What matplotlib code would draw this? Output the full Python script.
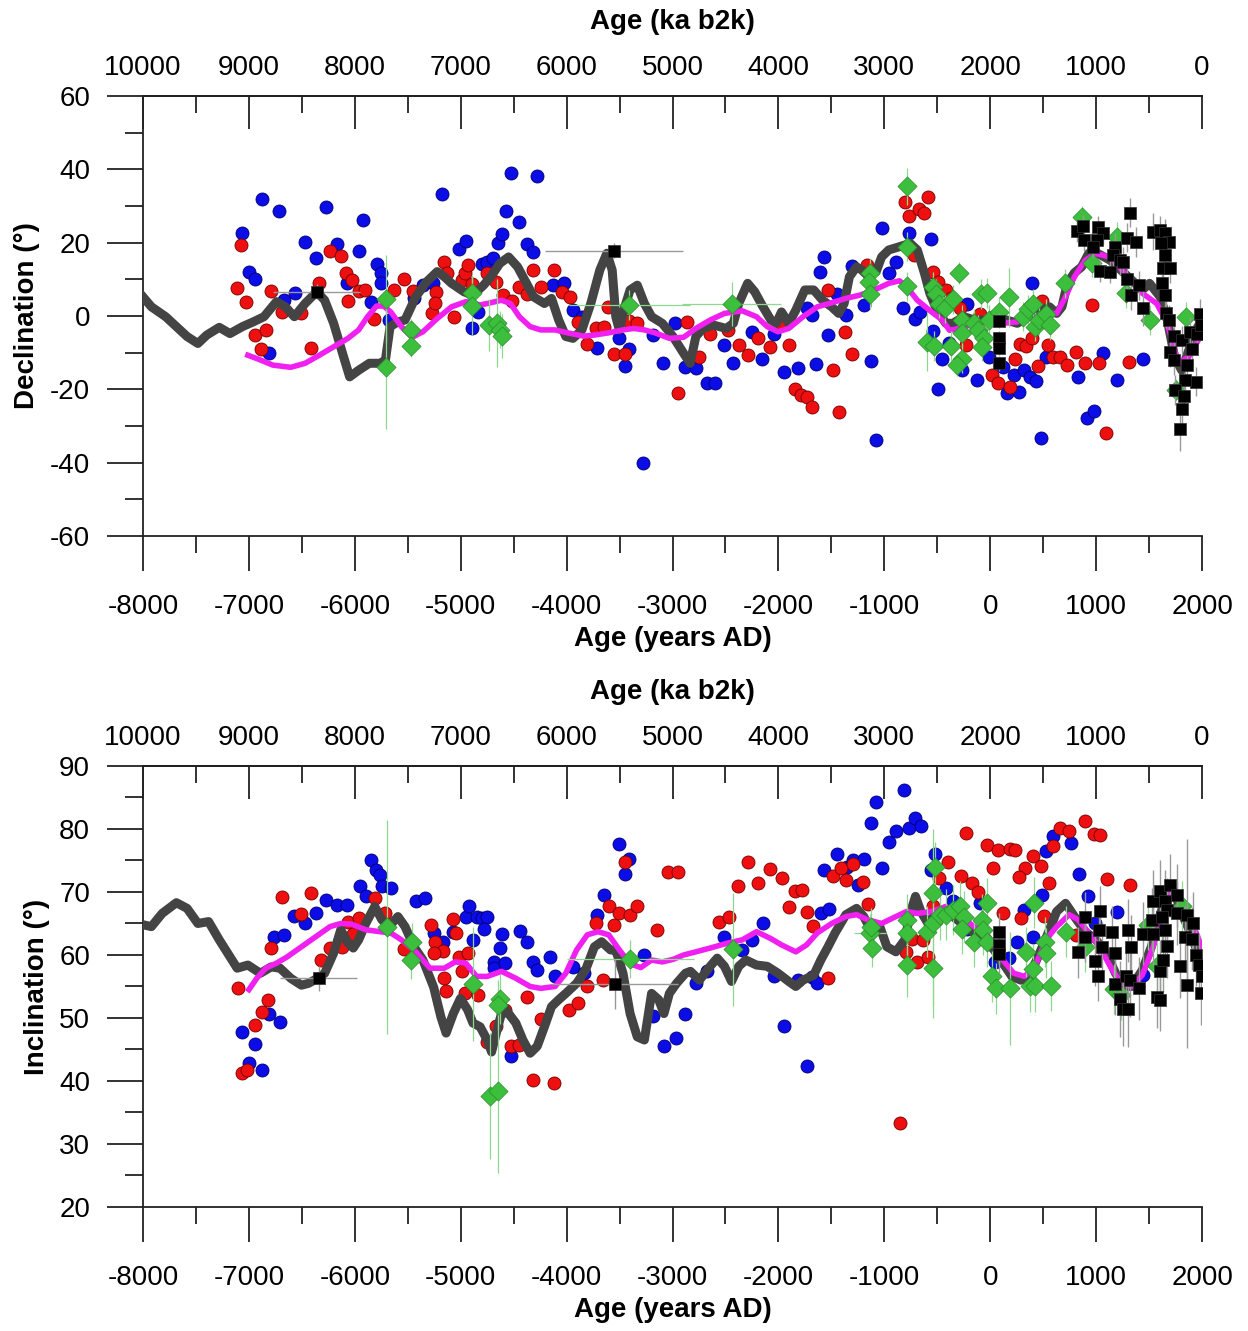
import numpy as np
import matplotlib
matplotlib.use('Agg')
import matplotlib.pyplot as plt
from matplotlib.ticker import MultipleLocator

plt.rcParams['font.family'] = ['Liberation Sans', 'DejaVu Sans']
plt.rcParams['axes.unicode_minus'] = False

# ---------------- declination panel ----------------
# (age AD, declination)
dec_blue = [(-7067, 22.5), (-6878, 31.8), (-6713, 28.7), (-7003, 12.1), (-6942, 10.2), (-6814, -10.2),
            (-6673, 4.3), (-6565, 6.2), (-6474, 20.2), (-6271, 29.8), (-6369, 15.9), (-6173, 19.6),
            (-5961, 17.8), (-5921, 26.1), (-6076, 8.9), (-5789, 14.1), (-5749, 11.6), (-5752, 8.9),
            (-5846, 3.9), (-5674, -1.1), (-5441, 4.8), (-5357, 8.4), (-5259, 8.9), (-5178, 33.2),
            (-5020, 18.4), (-4952, 20.5), (-4892, -3.4), (-4834, 1.1), (-4801, 14.3), (-4750, 14.8),
            (-4699, 15.7), (-4649, 19.8), (-4608, 22.3), (-4575, 28.7), (-4524, 39.1), (-4446, 25.5),
            (-4379, 19.6), (-4318, 17.5), (-4281, 38.2), (-4126, 8.4), (-4025, 8.9), (-3940, 1.6),
            (-3856, -0.2), (-3715, -8.6), (-3509, -6.1), (-3407, -9.1), (-3451, -13.7), (-3276, -40.2),
            (-3182, -5.2), (-3087, -12.8), (-2979, -2.0), (-2878, -13.9),
            (-2780, -14.3), (-2679, -18.2), (-2595, -18.4), (-2510, -7.9), (-2426, -12.9), (-2250, -4.3),
            (-2156, -11.8), (-2038, -4.8), (-1947, -15.2), (-1819, -14.3), (-1734, 2.1), (-1684, 0.2),
            (-1650, -13.1), (-1573, 16.1), (-1606, 12.1), (-1532, -5.2), (-1448, 5.9), (-1363, 0.2),
            (-1303, 13.6), (-1195, 3.0), (-1127, -12.2), (-1083, -33.8), (-1026, 23.9), (-959, 11.8),
            (-891, 14.8), (-824, 2.1), (-770, 22.7), (-712, -0.9), (-662, 1.1), (-561, 21.1),
            (-537, -4.1), (-493, -19.8), (-453, -11.6), (-385, -7.5), (-267, -14.8), (-217, 3.4),
            (-122, -17.5), (-8, -11.1), (120, -13.8), (154, -21.1), (221, -16.1), (272, -20.7),
            (316, -14.6), (373, -16.6), (434, -17.7), (397, 8.9), (475, -33.4), (525, -11.1),
            (829, -16.6), (913, -27.9), (981, -25.8), (1065, -10.2), (1193, -17.5), (1443, -11.6)]

dec_red = [(-7071, 19.3), (-7111, 7.5), (-7023, 3.9), (-6942, -5.2), (-6835, -3.7), (-6885, -9.1),
           (-6791, 6.8), (-6690, 1.1), (-6504, 0.9), (-6413, -8.7), (-6335, 8.9), (-6237, 17.8),
           (-6126, 16.4), (-6082, 11.6), (-6025, 9.8), (-6065, 4.2), (-5964, 6.8), (-5903, 7.1),
           (-5819, -0.9), (-5634, 7.2), (-5539, 10.2), (-5448, 6.9), (-5273, 0.9), (-5229, 6.6),
           (-5239, 3.6), (-5155, 14.8), (-5131, 11.8), (-5064, -0.4), (-4986, 9.8), (-4959, 11.8),
           (-4935, 13.9), (-4892, 8.7), (-4750, 11.8), (-4666, 9.3), (-4598, 5.7), (-4514, 4.2),
           (-4446, 8.0), (-4379, 6.0), (-4318, 12.5), (-4116, 12.5), (-4244, 8.0), (-4042, 6.6),
           (-3964, 5.2), (-3890, -1.6), (-3812, -7.7), (-3721, -3.4), (-3644, -3.1), (-3610, 2.5),
           (-3553, -10.4), (-3451, -10.4), (-3407, -1.3), (-3333, -2.0), (-2945, -20.9), (-2861, -1.6),
           (-2746, -11.1), (-2645, -4.8), (-2477, -3.7), (-2375, -7.9), (-2291, -10.7), (-2190, -6.1),
           (-2079, -8.4), (-1971, -2.5), (-1896, -7.9), (-1842, -19.8), (-1785, -21.6), (-1728, -22.2),
           (-1684, -24.8), (-1532, 7.1), (-1482, -14.6), (-1431, -26.1), (-1370, -4.3), (-1303, -10.4),
           (-1161, 13.9), (-807, 31.1), (-763, 27.2), (-672, 29.3), (-628, 28.1), (-588, 32.5),
           (-716, 16.6), (-537, 12.1), (-493, 9.3), (-419, 7.1), (-368, 4.8), (-284, 2.1),
           (-233, -7.9), (-99, 0.5), (12, -16.1), (69, -18.4), (187, -19.5), (238, -11.8),
           (282, -7.7), (340, -8.2), (390, -6.1), (451, -13.7), (492, 4.2), (542, -7.9),
           (593, -11.1), (660, -11.1), (728, -13.4), (812, -9.8), (890, -12.9), (964, 3.0),
           (1025, -12.9), (1092, -31.8), (1308, -12.5)]

# (age AD, declination, dec error, age error)
dec_green = [(-5701, 4.5, 12, 0), (-5701, -13.8, 17, 0), (-5468, -3.7, 3, 0), (-5468, -8.2, 3, 0),
             (-4892, 6.2, 5, 0), (-4892, 2.7, 8, 0), (-4733, -2.5, 7, 0), (-4655, -2.0, 12, 0),
             (-4632, -3.7, 5, 0), (-4615, -5.5, 6, 0), (-3407, 3.0, 4, 570), (-2443, 3.4, 6, 470),
             (-1134, 11.8, 4, 0), (-1144, 9.3, 4, 0), (-1134, 6.0, 4, 0), (-790, 35.4, 5, 0),
             (-790, 18.9, 4, 0), (-790, 8.1, 4, 0), (-544, 8.0, 4, 0), (-513, 6.0, 4, 0),
             (-486, 3.4, 4, 0), (-426, 2.1, 4, 0), (-594, -7.0, 8, 0), (-527, -8.2, 4, 0),
             (-352, 4.5, 4, 0), (-368, -8.2, 4, 0), (-291, 11.8, 3, 0), (-267, -1.1, 4, 0),
             (-267, -4.6, 4, 0), (-267, -11.6, 4, 0), (-318, -13.4, 3, 0), (-156, -2.0, 4, 0),
             (-89, 6.0, 4, 0), (-31, 6.3, 4, 0), (-116, -3.8, 4, 0), (-55, -6.1, 4, 0),
             (-75, -8.4, 4, 0), (-15, -1.1, 4, 0), (80, 1.1, 4, 0), (181, 5.1, 8, 0),
             (306, -0.2, 4, 0), (357, 1.8, 4, 0), (407, 3.4, 4, 0), (424, -2.9, 4, 0),
             (458, -1.1, 4, 0), (525, 0.5, 4, 0), (566, -2.5, 4, 0), (701, 8.9, 4, 0),
             (863, 27.1, 3, 0), (964, 14.5, 4, 0), (1193, 21.6, 4, 0), (1285, 6.3, 4, 0),
             (1510, -1.1, 4, 0), (1848, -0.2, 4, 0), (1757, -20.2, 3, 0)]

# (age AD, declination, dec error, age error)
dec_black = [(-6359, 6.6, 2, 410), (-3553, 17.8, 2, 650), (87, -1.3, 2, 0), (87, -6.1, 2, 0),
             (87, -8.6, 2, 0), (87, -12.9, 2, 0), (1320, 28.2, 4, 0), (817, 23.1, 3, 0),
             (880, 24.5, 3, 0), (889, 20.7, 3, 0), (1021, 24.3, 3, 0), (1069, 22.7, 3, 0),
             (1006, 20.7, 3, 0), (974, 18.7, 3, 0), (1037, 12.3, 3, 0), (1132, 12.0, 3, 0),
             (1179, 18.7, 4, 0), (1163, 16.6, 3, 0), (1226, 15.2, 4, 0), (1251, 14.8, 4, 0),
             (1289, 21.4, 4, 0), (1377, 20.2, 4, 0), (1289, 10.2, 4, 0), (1330, 5.7, 4, 0),
             (1409, 8.4, 4, 0), (1446, 2.3, 5, 0), (1541, 23.0, 5, 0), (1604, 23.4, 4, 0),
             (1651, 22.5, 4, 0), (1692, 20.2, 4, 0), (1610, 19.8, 4, 0), (1651, 16.6, 4, 0),
             (1629, 13.0, 4, 0), (1698, 13.0, 4, 0), (1620, 8.9, 4, 0), (1651, 5.7, 4, 0),
             (1661, 0.7, 4, 0), (1692, -1.0, 4, 0), (1736, -5.5, 4, 0), (1698, -9.8, 4, 0),
             (1736, -12.0, 4, 0), (1809, -6.6, 4, 0), (1887, -4.3, 4, 0), (1950, -4.8, 4, 0),
             (1982, 0.5, 4, 0), (1988, -2.5, 4, 0), (1903, -9.1, 4, 0), (1856, -13.4, 4, 0),
             (1944, -17.9, 4, 0), (1840, -17.5, 4, 0), (1745, -20.2, 4, 0), (1834, -21.9, 4, 0),
             (1809, -25.5, 4, 0), (1793, -30.7, 6, 0)]

dec_model = [(-8000, 5.2), (-7921, 2.5), (-7786, -0.2), (-7685, -2.9), (-7584, -5.6), (-7482, -7.5),
             (-7398, -5.2), (-7280, -3.1), (-7179, -4.8), (-7061, -2.9), (-6959, -1.6), (-6858, -0.2),
             (-6740, 3.9), (-6656, 2.5), (-6571, -0.2), (-6470, 3.4), (-6359, 6.6), (-6285, 4.3),
             (-6200, -2.0), (-6116, -10.2), (-6049, -16.6), (-5964, -14.8), (-5863, -12.9),
             (-5762, -12.9), (-5711, -12.0), (-5667, -2.9), (-5593, -1.6), (-5526, -1.1), (-5425, 5.2),
             (-5323, 9.3), (-5222, 12.1), (-5155, 10.7), (-5087, 8.9), (-4969, 6.6), (-4885, 5.7),
             (-4784, 8.4), (-4716, 10.7), (-4632, 14.3), (-4548, 16.1), (-4463, 13.4), (-4379, 8.9),
             (-4311, 5.2), (-4210, 3.4), (-4143, 4.8), (-4075, -1.1), (-4008, -5.6), (-3940, -6.1),
             (-3856, -3.8), (-3772, 3.4), (-3687, 12.5), (-3620, 17.1), (-3570, 12.5), (-3536, -0.2),
             (-3502, -3.8), (-3451, 2.5), (-3401, 7.1), (-3333, 8.4), (-3266, 3.4), (-3198, -0.2),
             (-3097, -2.0), (-2996, -5.6), (-2895, -10.2), (-2834, -12.9), (-2780, -5.6),
             (-2713, -3.4), (-2611, -2.5), (-2493, -3.4), (-2426, -2.0), (-2375, 3.4), (-2291, 8.9),
             (-2224, 6.6), (-2156, 3.0), (-2072, -1.1), (-2021, -2.0), (-1971, 1.1), (-1903, -2.0),
             (-1836, 1.6), (-1751, 7.1), (-1667, 7.1), (-1583, 4.3), (-1498, 2.5), (-1431, 0.7),
             (-1380, 3.4), (-1330, 10.7), (-1262, 13.4), (-1212, 12.5), (-1161, 11.1), (-1077, 12.1),
             (-1026, 16.1), (-959, 18.0), (-857, 18.9), (-756, 19.8), (-689, 18.0), (-621, 11.6),
             (-571, 6.2), (-503, 1.6), (-419, -2.0), (-352, -2.0), (-250, -0.2), (-149, -1.1),
             (-48, -1.1), (53, -0.2), (154, -1.1), (255, -2.0), (357, -0.2), (458, 1.2), (559, 2.5),
             (627, 0.7), (677, 2.5), (728, 8.9), (795, 11.8), (863, 13.4), (930, 17.1), (998, 17.3),
             (1133, 15.2), (1301, 10.7), (1436, 7.1), (1504, 8.9), (1605, 5.2), (1672, -1.1),
             (1740, -11.1), (1807, -14.8), (1875, -9.3), (1942, -3.8), (2000, -1.1)]

dec_smooth = [(-7010, -10.7), (-6909, -11.8), (-6774, -13.4), (-6605, -14.0), (-6470, -12.9),
              (-6335, -10.7), (-6200, -8.4), (-6065, -6.1), (-5964, -3.8), (-5880, -0.2), (-5796, 2.7),
              (-5728, 2.7), (-5661, 1.1), (-5560, -2.9), (-5458, -5.8), (-5357, -4.3), (-5222, -0.7),
              (-5087, 2.5), (-4952, 3.9), (-4817, 3.0), (-4750, 3.4), (-4615, 4.3), (-4531, 3.4),
              (-4446, -0.2), (-4345, -2.9), (-4244, -3.8), (-4109, -3.8), (-3974, -4.7), (-3839, -5.5),
              (-3738, -5.2), (-3603, -4.6), (-3468, -3.8), (-3367, -3.4), (-3266, -3.8), (-3165, -4.6),
              (-3030, -6.1), (-2895, -5.8), (-2780, -3.4), (-2645, -1.1), (-2510, 0.7), (-2342, 1.4),
              (-2207, -0.2), (-2106, -2.9), (-2004, -4.3), (-1903, -3.4), (-1768, -0.2), (-1633, 2.5),
              (-1498, 3.6), (-1363, 4.8), (-1229, 5.7), (-1094, 7.1), (-959, 8.9), (-857, 9.6),
              (-790, 8.0), (-689, 4.3), (-554, 1.1), (-453, -1.1), (-385, -3.9), (-284, -3.4),
              (-149, -2.0), (-15, -1.6), (120, -2.0), (255, -1.6), (390, -0.2), (525, 0.7), (627, 0.7),
              (711, 5.2), (795, 10.7), (897, 15.2), (998, 17.0), (1133, 16.1), (1301, 10.7),
              (1436, 6.2), (1571, 3.4), (1672, -2.0), (1774, -12.9), (1875, -11.1), (2000, -4.8)]

# ---------------- inclination panel ----------------
inc_blue = [(-7067, 47.7), (-7000, 42.8), (-6942, 45.9), (-6875, 41.7), (-6808, 50.7), (-6706, 49.4),
            (-6767, 62.9), (-6666, 63.2), (-6571, 66.2), (-6470, 65.0), (-6369, 66.6), (-6268, 68.7),
            (-6173, 67.9), (-6072, 67.9), (-5947, 70.9), (-5897, 69.3), (-5846, 75.1), (-5802, 73.5),
            (-5762, 72.7), (-5745, 70.9), (-5661, 70.7), (-5425, 68.5), (-5340, 69.0), (-5249, 63.5),
            (-5171, 62.1), (-5070, 63.7), (-4952, 66.1), (-4919, 67.7), (-4851, 66.1), (-4801, 65.8),
            (-4750, 66.1), (-4784, 64.2), (-4885, 62.4), (-4615, 63.3), (-4632, 61.1), (-4683, 58.9),
            (-4683, 57.9), (-4581, 58.7), (-4440, 63.8), (-4379, 62.1), (-4318, 58.9), (-4278, 57.6),
            (-4160, 59.7), (-4109, 56.6), (-3940, 58.1), (-3839, 57.1), (-3711, 66.3), (-3644, 69.5),
            (-3502, 77.6), (-3407, 75.3), (-3451, 72.9), (-3272, 60.0), (-3182, 50.3), (-3081, 45.6),
            (-2969, 46.8), (-2878, 50.7), (-4521, 44.0),
            (-2780, 55.6), (-2679, 57.5), (-2510, 62.9), (-2342, 60.8), (-2247, 62.3), (-2146, 65.0),
            (-2045, 56.7), (-1944, 48.7), (-1819, 56.0), (-1728, 42.3), (-1684, 56.5), (-1640, 55.6),
            (-1600, 66.6), (-1525, 67.3), (-1566, 73.5), (-1448, 76.1), (-1357, 73.9), (-1296, 75.1),
            (-1188, 75.3), (-1245, 71.1), (-1127, 81.0), (-1077, 84.3), (-1020, 73.8), (-959, 78.0),
            (-891, 79.7), (-817, 86.2), (-763, 80.1), (-706, 81.7), (-655, 80.5), (-520, 76.1),
            (-561, 73.5), (-419, 70.6), (-352, 68.5), (-217, 64.2), (-99, 68.2), (46, 58.9),
            (181, 59.5), (248, 62.0), (323, 67.1), (407, 62.9), (485, 69.5), (525, 76.5), (593, 78.9),
            (762, 77.7), (836, 72.9), (923, 69.4), (991, 65.0), (1200, 66.9), (1443, 56.8)]

inc_red = [(-7104, 54.8), (-7067, 41.2), (-7017, 41.7), (-6942, 48.9), (-6875, 50.9), (-6824, 52.8),
           (-6791, 61.1), (-6683, 69.2), (-6504, 66.5), (-6410, 69.8), (-6318, 59.2), (-6234, 61.1),
           (-6123, 61.2), (-6065, 65.3), (-6015, 63.3), (-5964, 65.8), (-5812, 69.0), (-5718, 66.6),
           (-5533, 60.9), (-5280, 64.8), (-5239, 62.0), (-5171, 60.7), (-5256, 60.3), (-5070, 65.7),
           (-5047, 63.5), (-5020, 59.7), (-4986, 57.5), (-4935, 60.3), (-5155, 56.3), (-5138, 54.3),
           (-4959, 53.9), (-4834, 53.7), (-4666, 48.8), (-4750, 46.2), (-4581, 51.3), (-4521, 45.6),
           (-4446, 45.7), (-4379, 53.3), (-4244, 49.8), (-4318, 40.1), (-4116, 39.6), (-3974, 51.3),
           (-3890, 52.3), (-3805, 55.1), (-3721, 65.0), (-3653, 56.0), (-3603, 67.7), (-3553, 64.8),
           (-3502, 66.6), (-3401, 66.3), (-3340, 67.7), (-3451, 74.8), (-3148, 63.9), (-3047, 73.1),
           (-2945, 73.1),
           (-2561, 65.3), (-2466, 66.0), (-2382, 71.0), (-2291, 74.8), (-2190, 71.5), (-2079, 73.6),
           (-1971, 72.2), (-1896, 67.6), (-1842, 70.2), (-1775, 70.3), (-1728, 66.9), (-1674, 64.6),
           (-1532, 56.4), (-1482, 72.5), (-1414, 73.8), (-1363, 71.9), (-1296, 74.5), (-1202, 71.6),
           (-1154, 68.1), (-797, 60.4), (-740, 62.6), (-689, 58.9), (-638, 62.4), (-588, 59.6),
           (-851, 33.4), (-537, 67.7), (-480, 72.2), (-402, 74.8), (-277, 72.5), (-227, 79.3),
           (-176, 71.4), (-116, 70.0), (-31, 77.5), (26, 73.8), (69, 76.7), (187, 76.9), (238, 76.7),
           (120, 66.7), (289, 65.8), (330, 73.8), (400, 75.7), (475, 74.1), (552, 71.5), (593, 77.3),
           (660, 80.1), (745, 79.7), (890, 81.3), (981, 79.2), (1038, 79.0), (509, 66.2), (812, 63.2),
           (1099, 72.0), (1318, 71.1), (272, 72.4)]

inc_green = [(-5694, 64.5, 17, 0), (-5458, 62.1, 3, 0), (-5465, 59.2, 3, 0), (-4885, 55.4, 9, 0),
             (-4632, 53.0, 4, 0), (-4649, 52.1, 4, 0), (-4723, 37.6, 10, 0), (-4649, 38.4, 13, 0),
             (-3401, 59.3, 3, 600), (-2433, 60.9, 9, 0), (-1134, 63.5, 3, 150), (-1120, 61.1, 3, 0),
             (-1127, 64.4, 3, 0), (-783, 65.6, 4, 0), (-783, 63.5, 4, 0), (-790, 58.4, 5, 0),
             (-537, 57.9, 6, 0), (-594, 63.7, 4, 0), (-520, 74.0, 4, 0), (-537, 69.9, 4, 0),
             (-537, 65.0, 15, 0), (-470, 66.4, 4, 0), (-419, 66.4, 4, 0), (-352, 67.1, 4, 0),
             (-284, 67.7, 4, 0), (-250, 66.1, 4, 0), (-267, 64.2, 4, 0), (-149, 62.1, 4, 0),
             (-82, 65.6, 4, 0), (-31, 68.2, 4, 0), (-65, 64.0, 4, 0), (-31, 62.1, 4, 0),
             (20, 56.6, 4, 0), (53, 54.7, 4, 0), (187, 54.7, 9, 0), (340, 60.5, 4, 0),
             (373, 55.0, 4, 0), (424, 55.0, 4, 0), (407, 57.7, 4, 0), (417, 68.3, 4, 0),
             (519, 62.1, 4, 0), (525, 60.3, 4, 0), (576, 55.1, 4, 0), (711, 63.7, 4, 0),
             (897, 61.3, 4, 0), (1166, 54.6, 4, 0), (1234, 53.6, 4, 0), (1487, 64.8, 4, 0),
             (1571, 58.2, 4, 0), (1807, 67.7, 4, 0)]

inc_black = [(-6342, 56.3, 2, 360), (-3546, 55.4, 4, 600), (87, 63.7, 3, 0), (87, 61.6, 3, 0),
             (87, 60.2, 3, 0), (896, 66.0, 4, 0), (1037, 67.0, 4, 0), (896, 62.9, 4, 0),
             (1031, 64.0, 4, 0), (1147, 63.7, 4, 0), (1305, 63.9, 5, 0), (833, 60.4, 4, 0),
             (990, 59.0, 4, 0), (1053, 61.2, 4, 0), (1179, 60.3, 4, 0), (1327, 61.3, 5, 0),
             (1021, 56.7, 4, 0), (1179, 55.4, 5, 0), (1283, 56.6, 5, 0), (1321, 56.1, 6, 0),
             (1409, 54.7, 5, 0), (1226, 53.0, 6, 0), (1258, 51.5, 6, 0), (1305, 51.4, 6, 0),
             (1446, 63.4, 5, 0), (1535, 63.4, 5, 0), (1525, 65.6, 5, 0), (1541, 68.5, 5, 0),
             (1604, 57.4, 5, 0), (1572, 53.4, 5, 0), (1604, 52.9, 5, 0), (1604, 70.1, 5, 0),
             (1651, 68.5, 5, 0), (1698, 71.1, 5, 0), (1761, 69.5, 5, 0), (1667, 67.2, 5, 0),
             (1651, 64.0, 5, 0), (1667, 61.4, 5, 0), (1761, 66.6, 5, 0), (1856, 66.4, 12, 0),
             (1919, 65.0, 5, 0), (1840, 62.9, 5, 0), (1903, 62.6, 5, 0), (1944, 60.0, 5, 0),
             (1975, 58.4, 5, 0), (1997, 56.6, 5, 0), (1988, 53.9, 5, 0), (1856, 55.2, 10, 0),
             (1793, 58.2, 5, 0), (1635, 59.2, 5, 0), (1620, 66.1, 5, 0)]

inc_model = [(-8000, 64.8), (-7921, 64.5), (-7819, 66.6), (-7685, 68.3), (-7584, 67.4), (-7482, 65.0),
             (-7381, 65.3), (-7280, 62.4), (-7179, 59.7), (-7111, 57.9), (-7010, 58.4), (-6892, 57.1),
             (-6791, 58.1), (-6706, 57.9), (-6605, 56.3), (-6504, 55.2), (-6437, 55.5), (-6352, 56.3),
             (-6285, 57.1), (-6200, 60.3), (-6133, 64.0), (-6065, 61.9), (-6015, 61.1), (-5964, 62.4),
             (-5897, 65.0), (-5812, 67.7), (-5745, 65.6), (-5677, 64.5), (-5593, 66.1), (-5526, 64.5),
             (-5441, 61.3), (-5357, 59.2), (-5256, 54.9), (-5188, 50.2), (-5138, 47.6), (-5070, 50.7),
             (-5003, 53.1), (-4935, 51.3), (-4885, 49.2), (-4817, 48.6), (-4750, 46.5), (-4709, 44.6),
             (-4649, 48.6), (-4598, 51.8), (-4548, 50.7), (-4480, 49.2), (-4413, 46.5), (-4345, 44.4),
             (-4278, 45.5), (-4210, 48.6), (-4143, 51.8), (-4075, 52.9), (-4008, 53.9), (-3906, 55.5),
             (-3822, 57.6), (-3738, 61.3), (-3670, 62.1), (-3586, 60.8), (-3536, 60.8), (-3468, 57.1),
             (-3401, 50.7), (-3333, 47.0), (-3266, 46.5), (-3198, 53.9), (-3131, 52.9), (-3081, 50.7),
             (-3030, 53.9), (-2962, 55.5), (-2878, 57.1), (-2831, 57.4), (-2746, 56.0), (-2645, 58.2),
             (-2578, 59.5), (-2510, 58.2), (-2443, 55.8), (-2375, 58.2), (-2308, 59.2), (-2207, 58.4),
             (-2106, 58.2), (-2004, 57.1), (-1903, 55.8), (-1836, 55.0), (-1768, 56.0), (-1667, 56.8),
             (-1600, 59.2), (-1532, 61.3), (-1465, 63.5), (-1363, 66.4), (-1262, 67.4), (-1195, 66.1),
             (-1127, 64.0), (-1043, 64.5), (-976, 61.3), (-891, 60.5), (-807, 62.4), (-756, 66.6),
             (-706, 69.3), (-655, 66.9), (-588, 65.0), (-520, 66.4), (-436, 66.9), (-352, 66.1),
             (-250, 64.8), (-149, 63.5), (-48, 62.4), (36, 60.8), (120, 58.7), (204, 56.6), (289, 56.0),
             (357, 56.3), (424, 58.7), (492, 61.3), (559, 64.0), (627, 66.9), (711, 68.2), (795, 66.1),
             (897, 63.7), (998, 62.4), (1099, 60.2), (1183, 57.1), (1267, 55.0), (1335, 55.0),
             (1436, 57.6), (1521, 61.3), (1588, 65.6), (1672, 69.8), (1740, 70.0), (1807, 66.6),
             (1892, 63.5), (1959, 60.3), (2000, 57.0)]

inc_smooth = [(-7000, 54.5), (-6926, 56.3), (-6841, 57.9), (-6740, 58.7), (-6639, 59.7), (-6504, 61.3),
              (-6369, 62.9), (-6234, 64.5), (-6133, 65.0), (-6032, 64.9), (-5897, 64.0), (-5762, 63.7),
              (-5661, 63.5), (-5560, 62.4), (-5425, 60.5), (-5290, 57.9), (-5155, 57.9), (-5053, 58.9),
              (-4952, 58.7), (-4851, 56.6), (-4750, 56.6), (-4615, 57.4), (-4480, 56.3), (-4345, 55.0),
              (-4244, 54.7), (-4109, 55.0), (-4008, 57.1), (-3906, 60.8), (-3805, 63.2), (-3704, 63.7),
              (-3603, 63.2), (-3502, 60.8), (-3401, 58.6), (-3300, 58.0), (-3198, 59.2), (-3097, 58.9),
              (-2996, 59.3), (-2895, 60.0), (-2780, 60.5), (-2645, 61.1), (-2477, 61.9), (-2342, 62.4),
              (-2207, 63.7), (-2072, 62.6), (-1971, 61.6), (-1836, 60.5), (-1734, 61.6), (-1633, 63.5),
              (-1498, 65.0), (-1363, 66.1), (-1262, 66.4), (-1161, 65.6), (-1026, 65.0), (-891, 66.1),
              (-790, 66.9), (-689, 66.6), (-554, 66.9), (-419, 67.7), (-284, 66.1), (-149, 64.5),
              (-15, 62.9), (120, 59.2), (221, 57.1), (323, 56.6), (424, 58.2), (525, 62.4), (627, 64.5),
              (745, 66.4), (829, 65.6), (930, 63.5), (1031, 61.3), (1133, 58.2), (1234, 55.5),
              (1335, 55.0), (1436, 56.8), (1538, 61.3), (1622, 66.1), (1706, 69.8), (1790, 68.7),
              (1875, 66.6), (1959, 62.9), (2000, 61.0)]

b2k_ticks = list(range(0, 10001, 1000))
FS = 20


def draw_panel(ax, ylim, ymaj, ymin, ylabel, blue, red, green, black, model, smooth):
    b = np.array(blue)
    r = np.array(red)
    g = np.array(green)
    k = np.array(black)
    m = np.array(model)
    s = np.array(smooth)

    ax.scatter(b[:, 0], b[:, 1], s=88, c='#0c0ce6', edgecolors='#000070', linewidths=0.6, zorder=3)
    ax.scatter(r[:, 0], r[:, 1], s=88, c='#ee1010', edgecolors='#700000', linewidths=0.6, zorder=3)
    ax.plot(m[:, 0], m[:, 1], color='#444444', lw=6.5, solid_joinstyle='round', zorder=4)
    ax.plot(s[:, 0], s[:, 1], color='#f020f0', lw=4, solid_joinstyle='round', zorder=5)
    ax.errorbar(g[:, 0], g[:, 1], yerr=g[:, 2], xerr=g[:, 3], fmt='none', ecolor='#8fd88f',
                elinewidth=0.9, zorder=5)
    ax.scatter(g[:, 0], g[:, 1], marker='D', s=95, c='#3cbf3c', edgecolors='#2a8a2a',
               linewidths=0.5, zorder=6)
    ax.errorbar(k[:, 0], k[:, 1], yerr=k[:, 2], xerr=k[:, 3], fmt='none', ecolor='#9a9a9a',
                elinewidth=1.0, zorder=6)
    ax.scatter(k[:, 0], k[:, 1], marker='s', s=65, c='black', edgecolors='#333333',
               linewidths=0.5, zorder=7)

    ax.set_xlim(-8000, 2000)
    ax.set_ylim(*ylim)
    ax.xaxis.set_major_locator(MultipleLocator(1000))
    ax.xaxis.set_minor_locator(MultipleLocator(500))
    ax.yaxis.set_major_locator(MultipleLocator(ymaj))
    ax.yaxis.set_minor_locator(MultipleLocator(ymin))
    ax.spines['right'].set_visible(False)
    for sp in ('left', 'bottom', 'top'):
        ax.spines[sp].set_linewidth(1.3)
        ax.spines[sp].set_color('#222222')
    ax.tick_params(which='both', direction='out', width=1.3, color='#222222',
                   labelsize=FS, top=False, right=False)
    ax.tick_params(axis='x', which='major', length=25, pad=16.5)
    ax.tick_params(axis='x', which='minor', length=12)
    ax.tick_params(axis='y', which='major', length=26, pad=12)
    ax.tick_params(axis='y', which='minor', length=13)
    ax.set_xlabel('Age (years AD)', fontsize=FS, fontweight='bold')
    ax.set_ylabel(ylabel, fontsize=FS, fontweight='bold')

    sec = ax.secondary_xaxis('top', functions=(lambda x: 2000 - x, lambda x: 2000 - x))
    sec.set_xticks(b2k_ticks)
    sec.xaxis.set_minor_locator(MultipleLocator(500))
    sec.tick_params(which='both', direction='in', width=1.3, color='#222222', labelsize=FS)
    sec.tick_params(which='major', length=24, pad=10.5)
    sec.tick_params(which='minor', length=12)
    sec.spines['top'].set_linewidth(1.3)
    sec.set_xlabel('Age (ka b2k)', fontsize=FS, fontweight='bold', labelpad=19)
    return sec


fig = plt.figure(figsize=(12.48, 13.31), dpi=100)
ax1 = fig.add_axes([0.1146, 0.5973, 0.8486, 0.3306])
ax2 = fig.add_axes([0.1146, 0.0932, 0.8486, 0.3313])

draw_panel(ax1, (-60, 60), 20, 10, 'Declination (\u00b0)',
           dec_blue, dec_red, dec_green, dec_black, dec_model, dec_smooth)
draw_panel(ax2, (20, 90), 10, 5, 'Inclination (\u00b0)',
           inc_blue, inc_red, inc_green, inc_black, inc_model, inc_smooth)

ax1.xaxis.set_label_coords(0.5, -0.204)
ax2.xaxis.set_label_coords(0.5, -0.204)
ax1.yaxis.set_label_coords(-0.097, 0.5)
ax2.yaxis.set_label_coords(-0.088, 0.5)

fig.savefig('out.png', dpi=100)
